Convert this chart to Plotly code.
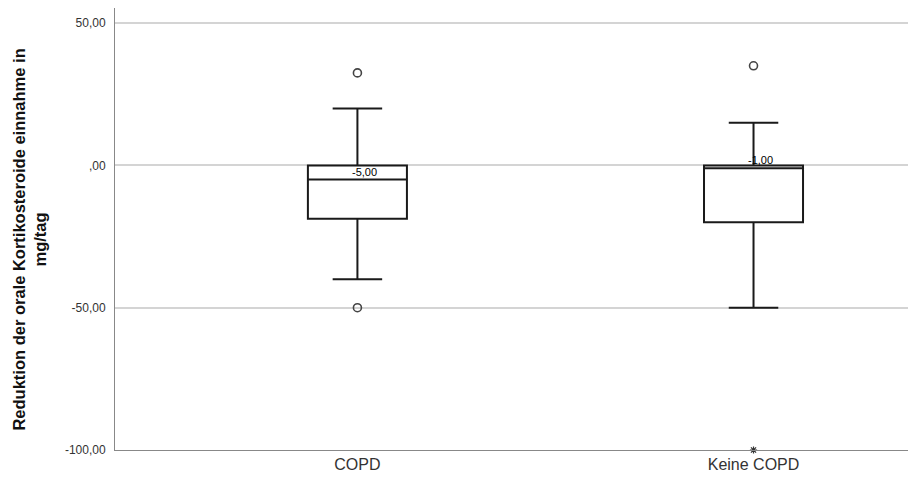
import plotly.graph_objects as go

categories = ["COPD", "Keine COPD"]
q1 = [-18.75, -20.0]
median = [-5.0, -1.0]
q3 = [0.0, 0.0]
lower_whisker = [-40.0, -50.0]
upper_whisker = [20.0, 15.0]

outlier_x = ["COPD", "COPD", "Keine COPD"]
outlier_y = [32.5, -50.0, 35.0]
extreme_x = ["Keine COPD"]
extreme_y = [-100.0]

y_ticks = [50, 0, -50, -100]
y_tick_labels = ["50,00", ",00", "-50,00", "-100,00"]
y_title = "Reduktion der orale Kortikosteroide einnahme in<br>mg/tag"

fig = go.Figure()
fig.add_trace(go.Box(
    x=categories, q1=q1, median=median, q3=q3,
    lowerfence=lower_whisker, upperfence=upper_whisker,
    width=0.25, whiskerwidth=0.5,
    fillcolor="white", line=dict(color="#1a1a1a", width=2),
    boxpoints=False, showlegend=False, hoverinfo="skip",
))
fig.add_trace(go.Scatter(
    x=outlier_x, y=outlier_y, mode="markers",
    marker=dict(symbol="circle-open", size=8, color="#444444", line=dict(width=1.6)),
    showlegend=False, hoverinfo="skip",
))
fig.add_trace(go.Scatter(
    x=extreme_x, y=extreme_y, mode="markers",
    marker=dict(symbol="asterisk-open", size=6, color="#333333", line=dict(width=1.2)),
    showlegend=False, cliponaxis=False, hoverinfo="skip",
))

for c, m in zip(categories, median):
    fig.add_annotation(
        x=c, y=m, text=f"{m:.2f}".replace(".", ","), showarrow=False,
        yanchor="bottom", xanchor="center", xshift=7, yshift=0,
        font=dict(family="Arial, Liberation Sans", size=11, color="#000000"),
    )

fig.add_annotation(
    xref="paper", yref="paper", x=-0.109, y=0.475,
    text="<b>" + y_title + "</b>", textangle=-90, showarrow=False,
    xanchor="center", yanchor="middle",
    font=dict(family="Arial, Liberation Sans", size=16.5, color="#111111"),
)

fig.update_layout(
    width=908, height=481,
    margin=dict(l=115, r=0, t=8, b=31),
    plot_bgcolor="white", paper_bgcolor="white",
    font=dict(family="Arial, Liberation Sans", color="#222222"),
    xaxis=dict(
        type="category", range=[-0.612, 1.39],
        showgrid=False, zeroline=False,
        showline=True, linecolor="#888888", linewidth=1,
        ticks="", tickfont=dict(size=16, color="#333333"),
    ),
    yaxis=dict(
        range=[-100, 55.3], tickvals=y_ticks, ticktext=y_tick_labels,
        showgrid=True, gridcolor="#d4d4d4", gridwidth=1.5, zeroline=False,
        showline=True, linecolor="#888888", linewidth=1,
        ticks="", ticklen=0, ticklabelstandoff=6,
        tickfont=dict(size=12, color="#333333"),
    ),
)

fig.write_html("out.html")
